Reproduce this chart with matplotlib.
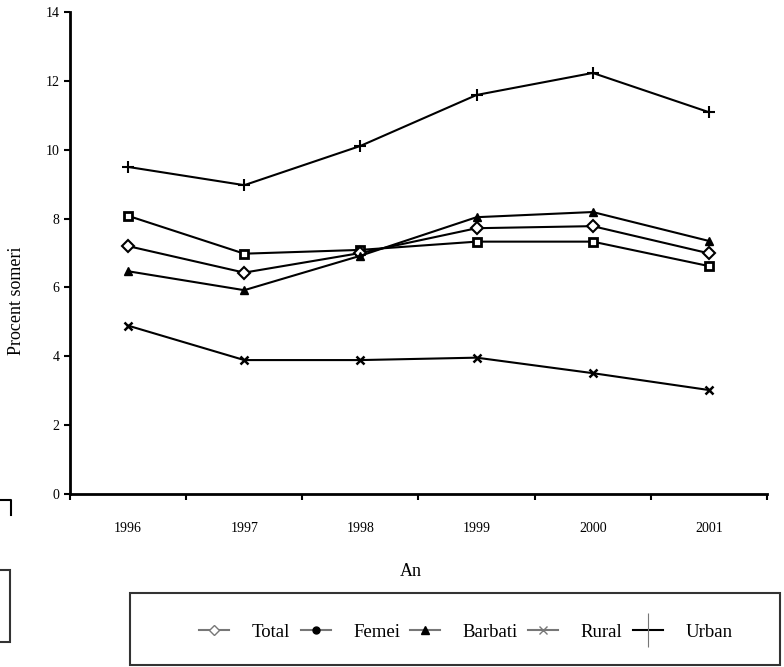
import matplotlib.pyplot as plt
from matplotlib.lines import Line2D
from matplotlib.patches import Rectangle

plt.rcParams['font.family'] = ['Liberation Serif', 'DejaVu Serif']

# Ani si procentul de someri pe categorii
YEARS = ['1996', '1997', '1998', '1999', '2000', '2001']
TOTAL = [7.2, 6.43, 7.0, 7.72, 7.78, 6.99]
FEMEI = [8.08, 6.98, 7.09, 7.33, 7.33, 6.62]
BARBATI = [6.47, 5.92, 6.92, 8.04, 8.19, 7.35]
RURAL = [4.89, 3.89, 3.89, 3.96, 3.51, 3.02]
URBAN = [9.5, 8.97, 10.11, 11.59, 12.23, 11.09]
YTICKS = [0, 2, 4, 6, 8, 10, 12, 14]
LEGEND_LABELS = ['Total', 'Femei', 'Barbati', 'Rural', 'Urban']

fig = plt.figure(figsize=(7.84, 6.67), dpi=100)
ax = fig.add_axes([70 / 784, 1 - 494 / 667, 697 / 784, 482 / 667])

x = list(range(len(YEARS)))
ax.plot(x, URBAN, color='black', lw=1.5, marker='+', ms=8, mew=1.5)
ax.plot(x, FEMEI, color='black', lw=1.5, marker='s', ms=6, mew=2,
        mfc='white', mec='black')
ax.plot(x, TOTAL, color='black', lw=1.5, marker='D', ms=6, mew=1.5,
        mfc='white', mec='black')
ax.plot(x, BARBATI, color='black', lw=1.5, marker='^', ms=6, mew=1,
        mfc='black', mec='black')
ax.plot(x, RURAL, color='black', lw=1.5, marker='x', ms=6, mew=1.8)

ax.set_xlim(-0.5, len(YEARS) - 0.5)
ax.set_ylim(0, 14)
ax.set_yticks(YTICKS)
ax.set_yticklabels([str(v) for v in YTICKS], fontsize=10)
ax.set_xticks([i - 0.5 for i in range(len(YEARS) + 1)])
ax.set_xticklabels([])
ax.set_xticks(x, minor=True)
ax.set_xticklabels(YEARS, minor=True, fontsize=10)
ax.tick_params(axis='x', which='minor', length=0, pad=20)
ax.tick_params(axis='both', which='major', direction='out', length=4, width=1.5)

for side in ['top', 'right']:
    ax.spines[side].set_visible(False)
for side in ['left', 'bottom']:
    ax.spines[side].set_linewidth(2)

ax.set_ylabel('Procent someri', fontsize=13)
ax.yaxis.set_label_coords(-0.064, 0.40)
fig.text(411 / 784, 1 - 572 / 667, 'An', fontsize=13, ha='center', va='center')

# Caseta legendei si alte chenare
fig.patches.append(Rectangle((130 / 784, 1 - 665 / 667), 650 / 784, 72 / 667,
                             transform=fig.transFigure, fill=False,
                             edgecolor='#333333', lw=1.5))
fig.patches.append(Rectangle((-5 / 784, 1 - 642 / 667), 15 / 784, 72 / 667,
                             transform=fig.transFigure, fill=False,
                             edgecolor='#333333', lw=1.5))
fig.lines.append(Line2D([0, 11 / 784, 11 / 784],
                        [1 - 500 / 667, 1 - 500 / 667, 1 - 515 / 667],
                        transform=fig.transFigure, color='black', lw=1.5))

grey = '#777777'
handles = [
    Line2D([], [], color=grey, marker='D', ms=5, mfc='white', mec=grey),
    Line2D([], [], color=grey, marker='o', ms=5, mfc='black', mec='black'),
    Line2D([], [], color=grey, marker='^', ms=6, mfc='black', mec='black'),
    Line2D([], [], color=grey, marker='x', ms=6, mec=grey),
    Line2D([], [], color='black', marker='|', ms=24, mec=grey, mew=0.8),
]
fig.legend(handles, LEGEND_LABELS, loc='center',
           bbox_to_anchor=(466 / 784, 1 - 632 / 667), ncol=5, frameon=False,
           fontsize=13.5, handlelength=1.6, columnspacing=0.55, handletextpad=1.2)

plt.savefig('out.png')
plt.close()
